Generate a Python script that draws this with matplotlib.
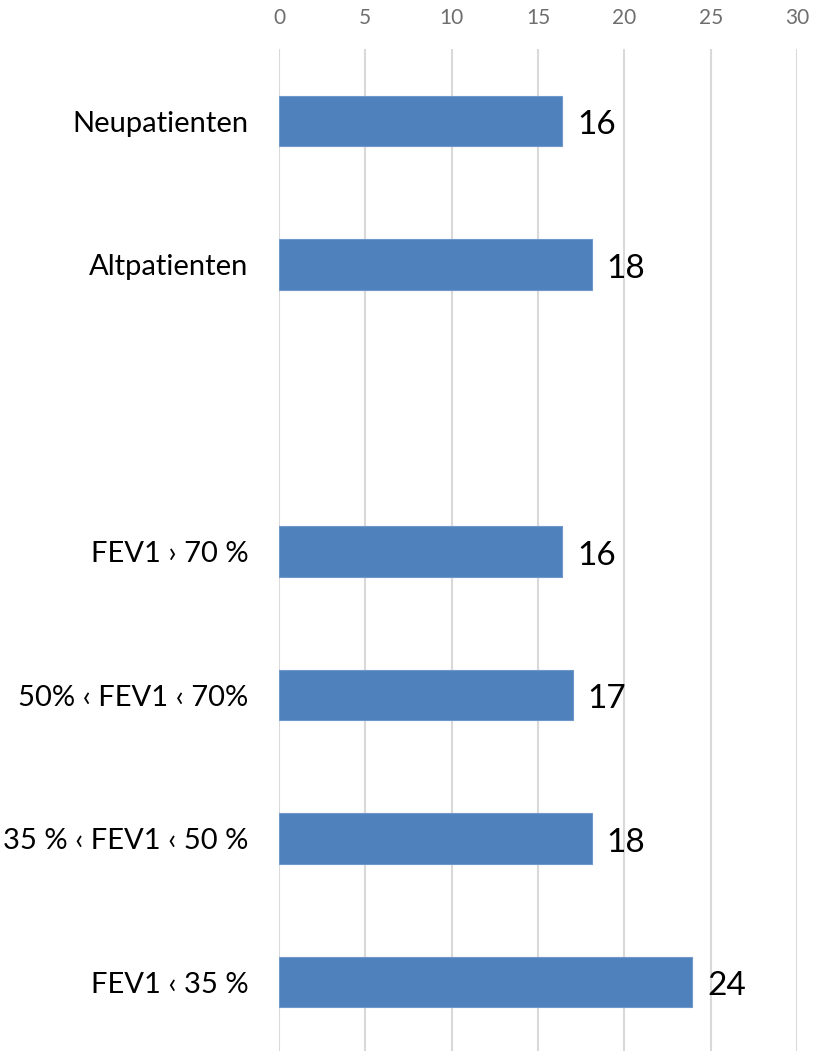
import matplotlib.pyplot as plt

plt.rcParams['font.family'] = ['Lato', 'DejaVu Sans']

# ---- Data ----
categories = ["Neupatienten", "Altpatienten", "",
              "FEV1 \u203a 70 %", "50% \u2039 FEV1 \u2039 70%",
              "35 % \u2039 FEV1 \u2039 50 %", "FEV1 \u2039 35 %"]
values = [16.4, 18.1, None, 16.4, 17.0, 18.1, 23.9]
labels = ["16", "18", "", "16", "17", "18", "24"]
xticks = [0, 5, 10, 15, 20, 25, 30]

W, H = 813, 1051
fig = plt.figure(figsize=(W / 100, H / 100), dpi=100)
# axes: x 279..797 px, y 49.25..1053.75 px (7 category slots of 143.5 px)
top_px, bot_px = 49.25, 1053.75
ax = fig.add_axes([279 / W, (H - bot_px) / H, (797 - 279) / W, (bot_px - top_px) / H])

ypos = list(range(len(categories)))
for y, v, lab in zip(ypos, values, labels):
    if v is None:
        continue
    ax.barh(y, v, height=0.355, color="#4F81BD", edgecolor="#6F97CA",
            linewidth=0.8, zorder=3)
    ax.annotate(lab, xy=(v, y), xytext=(11, -3), textcoords="offset points",
                ha="left", va="center", fontsize=24, color="black")

ax.set_xlim(0, 30)
ax.set_ylim(len(categories) - 0.5, -0.5)
ax.set_xticks(xticks)
ax.set_xticklabels([str(t) for t in xticks], fontsize=15, color="#6E6E6E")
ax.xaxis.tick_top()
ax.tick_params(axis="x", length=0, pad=15)
ax.set_yticks(ypos)
ax.set_yticklabels(categories, fontsize=21, color="black")
ax.tick_params(axis="y", length=0, pad=22)
ax.grid(axis="x", color="#D9D9D9", linewidth=1.5, zorder=0)
for s in ax.spines.values():
    s.set_visible(False)

fig.savefig("out.png", dpi=100)
